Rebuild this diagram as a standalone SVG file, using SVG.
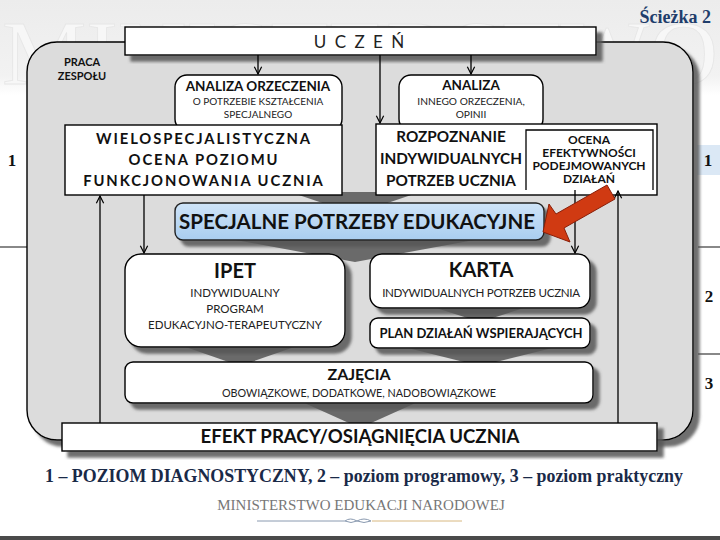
<svg xmlns="http://www.w3.org/2000/svg" width="720" height="540" viewBox="0 0 720 540">
<defs>
<filter id="sh" x="-10%" y="-10%" width="130%" height="140%">
<feDropShadow dx="6" dy="6" stdDeviation="1.5" flood-color="#555" flood-opacity="0.85"/>
</filter>
<linearGradient id="wm" x1="0" y1="0" x2="0" y2="1">
<stop offset="0" stop-color="#ececec"/>
<stop offset="0.8" stop-color="#f2f2f2"/>
<stop offset="1" stop-color="#ffffff"/>
</linearGradient>
<linearGradient id="blue" x1="0" y1="0" x2="0" y2="1">
<stop offset="0" stop-color="#cfe4f8"/>
<stop offset="1" stop-color="#a9cdf0"/>
</linearGradient>
<marker id="ah" viewBox="0 0 10 10" refX="9" refY="5" markerWidth="7" markerHeight="7" orient="auto-start-reverse">
<path d="M1,1 L9,5 L1,9" fill="none" stroke="#000" stroke-width="1.3"/>
</marker>
<style>
.box{fill:#fff;stroke:#000;stroke-width:1.4}
.b{font-family:Lato,"Open Sans","Liberation Sans",sans-serif;font-weight:bold;fill:#111;text-anchor:middle}
.s{font-family:Lato,"Open Sans","Liberation Sans",sans-serif;fill:#222;text-anchor:middle}
.ln{stroke:#000;stroke-width:1.3;fill:none}
.chev{fill:#6a6a6a}
.rn{font-family:"Liberation Serif",serif;font-size:17px;font-weight:bold;fill:#111;text-anchor:middle}
</style>
</defs>

<rect x="0" y="0" width="720" height="540" fill="#fff"/>
<rect x="0" y="0" width="720" height="95" fill="url(#wm)"/>
<text x="2" y="84" font-family="Liberation Serif,serif" font-size="92" fill="#f7f7f7" stroke="#e6e6e6" stroke-width="0.8" textLength="716" lengthAdjust="spacingAndGlyphs">MINISTERSTWO</text>

<text x="711" y="23" font-family="Liberation Serif,serif" font-size="18" font-weight="bold" fill="#1f3d6b" text-anchor="end">Ścieżka 2</text>

<g id="margins">
<line x1="0" y1="247" x2="28" y2="247" stroke="#888" stroke-width="2"/>
<line x1="698" y1="247" x2="720" y2="247" stroke="#888" stroke-width="2"/>
<line x1="698" y1="354" x2="720" y2="354" stroke="#888" stroke-width="2"/>
<rect x="697" y="145" width="23" height="30" fill="#dbe8f5"/>
<text class="rn" x="12" y="166">1</text>
<text class="rn" x="708" y="166">1</text>
<text class="rn" x="709" y="302">2</text>
<text class="rn" x="709" y="389">3</text>
</g>

<g id="panel">
<rect x="27" y="42" width="666" height="398" rx="30" fill="#dcdcdc" stroke="#000" stroke-width="1.4" filter="url(#sh)"/>
<text class="b" x="82" y="66" font-size="11">PRACA</text>
<text class="b" x="82" y="80" font-size="11">ZESPOŁU</text>
</g>

<g id="chevrons">
<polygon class="chev" points="290,192 420,192 355,214"/>
<polygon class="chev" points="225,238 485,238 355,262"/>
<polygon class="chev" points="180,345 300,345 240,366"/>
<polygon class="chev" points="430,306 530,306 480,322"/>
<polygon class="chev" points="400,346 560,346 480,366"/>
<polygon class="chev" points="300,401 420,401 360,428"/>
</g>

<g id="uczen">
<rect class="box" x="125" y="27" width="471" height="28" filter="url(#sh)"/>
<text class="s" x="360" y="48" font-size="17" letter-spacing="2">U C Z E Ń</text>
</g>

<g id="analiza-orzeczenia">
<rect class="box" x="175" y="75" width="167" height="56" rx="12"/>
<text class="b" x="258" y="91" font-size="13.5">ANALIZA ORZECZENIA</text>
<text class="s" x="258" y="105" font-size="10">O POTRZEBIE KSZTAŁCENIA</text>
<text class="s" x="258" y="118" font-size="10">SPECJALNEGO</text>
</g>

<g id="analiza">
<rect class="box" x="399" y="75" width="144" height="56" rx="12"/>
<text class="b" x="471" y="90" font-size="13.5">ANALIZA</text>
<text class="s" x="471" y="105" font-size="10.2">INNEGO ORZECZENIA,</text>
<text class="s" x="471" y="118" font-size="10.2">OPINII</text>
</g>

<g id="wielo">
<rect class="box" x="65" y="125" width="277" height="70"/>
<text class="b" x="204" y="144" font-size="14.8" letter-spacing="1.9">WIELOSPECJALISTYCZNA</text>
<text class="b" x="204" y="165" font-size="14.8" letter-spacing="1.9">OCENA POZIOMU</text>
<text class="b" x="204" y="186" font-size="14.8" letter-spacing="1.9">FUNKCJONOWANIA UCZNIA</text>
</g>

<g id="rozpoznanie">
<rect class="box" x="376" y="124" width="281" height="71"/>
<text class="b" x="451" y="142" font-size="15.3">ROZPOZNANIE</text>
<text class="b" x="451" y="164" font-size="15.3">INDYWIDUALNYCH</text>
<text class="b" x="451" y="186" font-size="15.3">POTRZEB UCZNIA</text>
</g>

<g id="ocena">
<path class="ln" d="M526,190 V130 H653 V190"/>
<text class="b" x="589" y="144" font-size="12">OCENA</text>
<text class="b" x="589" y="157" font-size="12">EFEKTYWNOŚCI</text>
<text class="b" x="589" y="170" font-size="12">PODEJMOWANYCH</text>
<text class="b" x="589" y="183" font-size="12">DZIAŁAŃ</text>
</g>

<g id="spe">
<rect x="175" y="203" width="369" height="37" rx="8" fill="url(#blue)" stroke="#222" stroke-width="1.4" filter="url(#sh)"/>
<text class="b" x="357" y="229" font-size="20.5" fill="#0d1a33">SPECJALNE POTRZEBY EDUKACYJNE</text>
</g>

<g id="ipet">
<rect class="box" x="125" y="254" width="220" height="93" rx="16" filter="url(#sh)"/>
<text class="b" x="235" y="278" font-size="20">IPET</text>
<text class="s" x="235" y="297" font-size="11.5">INDYWIDUALNY</text>
<text class="s" x="235" y="313" font-size="11.5">PROGRAM</text>
<text class="s" x="235" y="329" font-size="11.5">EDUKACYJNO-TERAPEUTYCZNY</text>
</g>

<g id="karta">
<rect class="box" x="370" y="254" width="220" height="54" rx="12" filter="url(#sh)"/>
<text class="b" x="481" y="277" font-size="20">KARTA</text>
<text class="s" x="481" y="297" font-size="11.6" letter-spacing="-0.3">INDYWIDUALNYCH POTRZEB UCZNIA</text>
</g>

<g id="plan">
<rect class="box" x="370" y="318" width="220" height="30" rx="8" filter="url(#sh)"/>
<text class="b" x="481" y="338" font-size="13">PLAN DZIAŁAŃ  WSPIERAJĄCYCH</text>
</g>

<g id="zajecia">
<rect class="box" x="125" y="362" width="468" height="41" rx="8" filter="url(#sh)"/>
<text class="b" x="359" y="380" font-size="16">ZAJĘCIA</text>
<text class="s" x="359" y="397" font-size="10.8">OBOWIĄZKOWE,  DODATKOWE,  NADOBOWIĄZKOWE</text>
</g>

<g id="efekt">
<rect class="box" x="62" y="423" width="595" height="28" filter="url(#sh)"/>
<text class="b" x="360" y="443" font-size="18.6">EFEKT PRACY/OSIĄGNIĘCIA UCZNIA</text>
</g>

<g id="connectors">
<line class="ln" x1="258" y1="55" x2="258" y2="74" marker-end="url(#ah)"/>
<line class="ln" x1="471" y1="55" x2="471" y2="74" marker-end="url(#ah)"/>
<line class="ln" x1="380" y1="55" x2="380" y2="123" marker-end="url(#ah)"/>
<line class="ln" x1="100" y1="423" x2="100" y2="196" marker-end="url(#ah)"/>
<line class="ln" x1="144" y1="195" x2="144" y2="253" marker-end="url(#ah)"/>
<line class="ln" x1="575" y1="190" x2="575" y2="253" marker-end="url(#ah)"/>
<line class="ln" x1="618" y1="423" x2="618" y2="191" marker-end="url(#ah)"/>
<polygon points="607,185 556,214 549,204 543,232 570,242 564,228 615,199" fill="#d03a12" stroke="#8a1e08" stroke-width="1"/>
</g>

<g id="footer">
<text x="364" y="482" font-family="Liberation Serif,serif" font-size="18" font-weight="bold" fill="#1a2a48" text-anchor="middle" textLength="638" lengthAdjust="spacingAndGlyphs">1 – POZIOM DIAGNOSTYCZNY, 2 – poziom programowy, 3 – poziom praktyczny</text>
<text x="361" y="510" font-family="Liberation Serif,serif" font-size="15" fill="#777" text-anchor="middle">MINISTERSTWO EDUKACJI NARODOWEJ</text>
<line x1="257" y1="521" x2="345" y2="521" stroke="#8a9ab0" stroke-width="1"/>
<line x1="372" y1="521" x2="462" y2="521" stroke="#d8b880" stroke-width="1"/>
<path d="M345,521 q5,-4 12,0 q-6,3 -12,0 M357,521 q7,-4 14,0 q-7,3 -14,0" fill="none" stroke="#8a9ab0" stroke-width="1"/>
<rect x="0" y="536" width="720" height="4" fill="#4a4a4a"/>
</g>
</svg>
